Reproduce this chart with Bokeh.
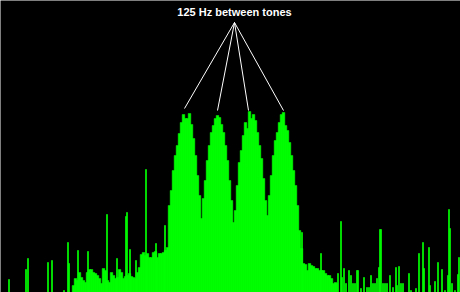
from bokeh.plotting import figure
from bokeh.models import Range1d, Label
from bokeh.embed import file_html
from bokeh.resources import INLINE

# Spectrum body: levels per 2-column bin starting at column 72
body_start = 72
body_step = 2
body_levels = [7, 14, 12, 20, 15, 12, 10, 20, 23, 23, 20, 19, 17, 14, 9, 24, 22, 12, 10, 20,
               17, 14, 15, 23, 20, 14, 16, 17, 19, 16, 15, 14, 20, 25, 38, 40, 37, 39, 35, 35,
               40, 41, 35, 39, 39, 40, 42, 45, 87, 102, 122, 137, 147, 159, 170, 178, 174, 174,
               179, 168, 154, 137, 117, 97, 74, 94, 112, 132, 147, 160, 167, 174, 177, 175,
               168, 160, 147, 132, 112, 92, 70, 82, 107, 130, 142, 157, 170, 164, 181, 174,
               178, 172, 160, 147, 134, 114, 92, 77, 97, 117, 137, 152, 160, 170, 178, 180,
               167, 162, 150, 137, 122, 107, 87, 62, 44, 29, 28, 22, 29, 27, 26, 24, 24, 22,
               22, 22, 19, 17, 17, 14, 9, 10]

# Isolated spectral lines (column, level)
spike_x = [8, 25, 27, 47, 51, 63, 67, 68, 77, 87, 106, 116, 125, 126, 129, 135, 145, 155, 164,
           301, 320, 336, 337, 340, 341, 343, 345, 348, 350, 352, 354, 356, 357, 360, 363, 366,
           368, 370, 372, 374, 376, 378, 379, 380, 382, 384, 386, 389, 392, 395, 396, 398, 400,
           402, 408, 410, 415, 418, 422, 423, 428, 429, 434, 437, 441, 444, 447, 448, 449, 451,
           454, 457, 458]
spike_h = [13, 23, 34, 30, 32, 2, 50, 29, 42, 41, 78, 34, 76, 80, 43, 32, 123, 49, 67,
           60, 39, 9, 19, 71, 15, 24, 9, 22, 17, 9, 9, 22, 22, 4, 15, 5,
           5, 17, 9, 9, 14, 25, 63, 63, 9, 9, 9, 17, 5, 25, 7, 26, 9,
           9, 19, 2, 4, 39, 50, 24, 45, 7, 11, 30, 23, 2, 17, 83, 64, 9,
           2, 18, 35]

# Tone peaks marked by the annotation
tone_x = [184, 217, 248, 283]
tone_h = [184, 182, 182, 182]
note_text = "125 Hz between tones"

W, H = 460, 292
GREEN = "#00ff00"
p = figure(width=W, height=H, output_backend="svg", toolbar_location=None,
           x_range=Range1d(0, W), y_range=Range1d(0, H), min_border=0)
p.background_fill_color = "black"
p.border_fill_color = "black"
p.outline_line_color = None
p.axis.visible = False
p.grid.visible = False

bx = [body_start + i * body_step + body_step / 2 for i in range(len(body_levels))]
p.vbar(x=bx, top=body_levels, bottom=0, width=body_step + 0.6,
       fill_color=GREEN, line_color=GREEN, line_width=0.5)
p.vbar(x=[x + 0.5 for x in spike_x], top=spike_h, bottom=0, width=1,
       fill_color=GREEN, line_color=GREEN, line_width=0.7)

apex_x, apex_y = 234, 270
for tx, th in zip(tone_x, tone_h):
    p.line([apex_x, tx], [apex_y, th], line_color="white", line_width=1)

p.add_layout(Label(x=234, y=281, text=note_text, text_color="white",
                   text_font="Liberation Sans", text_font_style="bold",
                   text_font_size="11px", text_align="center", text_baseline="middle"))

open("out.html", "w").write(file_html(p, INLINE))
